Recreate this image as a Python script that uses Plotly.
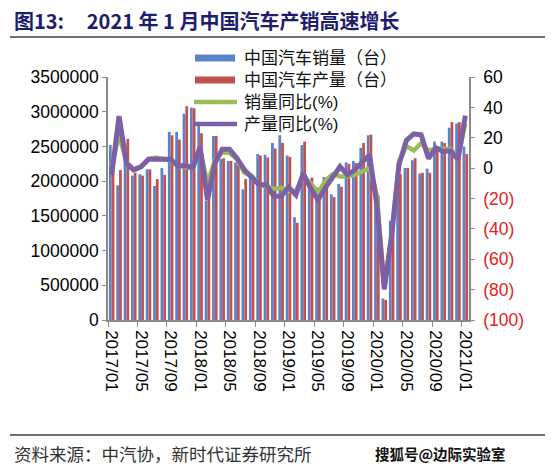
import plotly.graph_objects as go

months = [f"{y}/{m:02d}" for y in range(2017, 2021) for m in range(1, 13)] + ["2021/01"]

sales = [
    2520000, 1940000, 2540000, 2080000, 2100000, 2170000, 1930000, 2190000, 2710000, 2710000, 2970000, 3060000,
    2810000, 1720000, 2650000, 2320000, 2290000, 2270000, 1880000, 2100000, 2390000, 2380000, 2550000, 2660000,
    2370000, 1480000, 2520000, 1980000, 1910000, 2060000, 1810000, 1960000, 2270000, 2290000, 2480000, 2660000,
    1940000, 310000, 1430000, 2070000, 2190000, 2300000, 2110000, 2180000, 2570000, 2570000, 2770000, 2830000,
    2500000]

production = [
    2150000, 2160000, 2610000, 2120000, 2080000, 2170000, 2030000, 2090000, 2660000, 2600000, 3080000, 3050000,
    2690000, 1950000, 2650000, 2330000, 2290000, 2230000, 2030000, 2000000, 2370000, 2340000, 2470000, 2550000,
    2350000, 1400000, 2570000, 2050000, 1860000, 1970000, 1770000, 1920000, 2250000, 2260000, 2550000, 2670000,
    1790000, 290000, 1430000, 2100000, 2190000, 2330000, 2120000, 2120000, 2480000, 2550000, 2850000, 2850000,
    2390000]

sales_yoy = [
    1, 22, 4, -1, 1, 6, 7, 6, 5, 1.5, 1, 0,
    12, -10, 5, 10.5, 10, 6, -3, -5, -11, -12, -13.5, -13,
    -15, -15, -5.5, -10, -16, -8.5, -4, -5.5, -5.5, -4.5, -2.5, 0,
    -18, -79, -43, 4.4, 14.5, 11.6, 16.4, 11.6, 12.8, 12.5, 12.6, 6.4,
    29.5]

prod_yoy = [
    -4.5, 34.3, 3.2, -1.2, 1, 5.8, 5.8, 5.8, 5.8, 1.4, 1.8, 0,
    14, -21, 3.2, 12.4, 12.4, 6.5, -1, -6, -11, -11, -18.5, -18.5,
    -12.5, -17.7, -3.4, -13.3, -21, -13, -6, 1, -4.5, -1.2, 3.8, 8.7,
    -24.3, -79.8, -44.5, 2.3, 18.2, 22.5, 21.9, 6.3, 13.4, 11.0, 11.4, 5.7,
    34.6]

left_ticks = [0, 500000, 1000000, 1500000, 2000000, 2500000, 3000000, 3500000]
right_ticks = [-100, -80, -60, -40, -20, 0, 20, 40, 60]
right_text = ["(100)", "(80)", "(60)", "(40)", "(20)", "0", "20", "40", "60"]

legend_names = ["中国汽车销量（台）", "中国汽车产量（台）", "销量同比(%)", "产量同比(%)"]

BLUE = "#5B83C9"
RED = "#C4504D"
GREEN = "#9BBB59"
PURPLE = "#7D5FA6"
NEG_RED = "#E8201E"

W, H = 554, 473
L, R, T, B = 108, 469, 77, 320
PW, PH = R - L, B - T


def px(xp):
    return (xp - L) / PW


def py(yp):
    return (B - yp) / PH


num_font = "Liberation Sans, Arial, sans-serif"
cjk_font = "Noto Sans CJK SC, sans-serif"
legend_font = "Liberation Sans, Noto Sans CJK SC, sans-serif"

fig = go.Figure()
fig.add_trace(go.Bar(x=months, y=sales, name=legend_names[0], marker_color=BLUE,
                     marker_line_width=0, showlegend=False))
fig.add_trace(go.Bar(x=months, y=production, name=legend_names[1], marker_color=RED,
                     marker_line_width=0, showlegend=False))
fig.add_trace(go.Scatter(x=months, y=sales_yoy, name=legend_names[2], yaxis="y2", mode="lines",
                         line=dict(color=GREEN, width=4.5), showlegend=False))
fig.add_trace(go.Scatter(x=months, y=prod_yoy, name=legend_names[3], yaxis="y2", mode="lines",
                         line=dict(color=PURPLE, width=5), showlegend=False))

right_ticktext = [t if not t.startswith("(") else f'<span style="color:{NEG_RED}">{t}</span>' for t in right_text]

fig.update_layout(
    width=W, height=H,
    margin=dict(l=L, r=W - R, t=T, b=H - B, pad=0),
    paper_bgcolor="white", plot_bgcolor="white",
    barmode="group", bargap=0.25, bargroupgap=0,
    xaxis=dict(type="category", range=[-0.5, len(months) - 0.5], tickmode="linear", tick0=0, dtick=4,
               tickson="boundaries", ticks="outside", ticklen=5, tickcolor="#8a8a8a",
               showline=True, linecolor="#8a8a8a", linewidth=1.5, showgrid=False, zeroline=False,
               tickangle=90, ticklabelstandoff=5,
               tickfont=dict(family=num_font, size=17, color="black")),
    yaxis=dict(range=[0, 3500000], tickvals=left_ticks, ticktext=[str(v) for v in left_ticks],
               ticks="outside", ticklen=4, tickcolor="#8a8a8a", showline=True, linecolor="#8a8a8a",
               linewidth=1.5, showgrid=False, zeroline=False,
               tickfont=dict(family=num_font, size=17.5, color="black")),
    yaxis2=dict(range=[-100, 60], tickvals=right_ticks, ticktext=right_ticktext, overlaying="y", side="right",
                ticks="outside", ticklen=4, tickcolor="#8a8a8a", showline=True, linecolor="#8a8a8a",
                linewidth=1.5, showgrid=False, zeroline=False, ticklabelstandoff=5,
                tickfont=dict(family=num_font, size=17.5, color="black")),
    showlegend=False,
)

shapes = []
annotations = []

# title
annotations.append(dict(x=px(12), y=py(21), xref="paper", yref="paper", xanchor="left", yanchor="middle",
                        showarrow=False,
                        text="<b>图13:\u00a0\u00a0\u00a0\u00a0 2021 年 1 月中国汽车产销高速增长</b>",
                        font=dict(family=cjk_font, size=20, color="#1E1C6E")))
shapes.append(dict(type="line", xref="paper", yref="paper", x0=px(10), x1=px(545), y0=py(37), y1=py(37),
                   line=dict(color="#404040", width=1.5)))

# footer
shapes.append(dict(type="line", xref="paper", yref="paper", x0=px(10), x1=px(545), y0=py(435), y1=py(435),
                   line=dict(color="#404040", width=1.5)))
annotations.append(dict(x=px(12), y=py(453), xref="paper", yref="paper", xanchor="left", yanchor="middle",
                        showarrow=False, text="资料来源：中汽协，新时代证券研究所",
                        font=dict(family=cjk_font, size=17.5, color="#333333")))
annotations.append(dict(x=px(508), y=py(453), xref="paper", yref="paper", xanchor="right", yanchor="middle",
                        showarrow=False, text="<b>搜狐号@边际实验室</b>",
                        font=dict(family=cjk_font, size=14.5, color="#111111")))

# legend
rows = [58, 80, 102, 124]
colors = [BLUE, RED, GREEN, PURPLE]
for i, (name, c, ry) in enumerate(zip(legend_names, colors, rows)):
    if i < 2:
        shapes.append(dict(type="rect", xref="paper", yref="paper", x0=px(195), x1=px(235),
                           y0=py(ry - 3.5), y1=py(ry + 3.5), fillcolor=c, line=dict(width=0)))
    else:
        shapes.append(dict(type="line", xref="paper", yref="paper", x0=px(194), x1=px(237),
                           y0=py(ry), y1=py(ry), line=dict(color=c, width=4.5)))
    annotations.append(dict(x=px(243), y=py(ry), xref="paper", yref="paper", xanchor="left", yanchor="middle",
                            showarrow=False, text=name, borderpad=0, height=19,
                            font=dict(family=legend_font, size=17, color="#111111")))

fig.update_layout(shapes=shapes, annotations=annotations)
fig.write_html("out.html", config={"displayModeBar": False},
               post_script="document.body.style.margin='0';")
